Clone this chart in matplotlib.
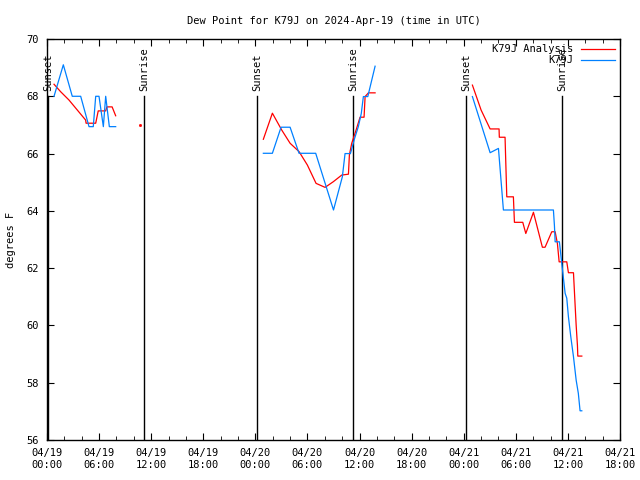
import numpy as np
import matplotlib
matplotlib.use('Agg')
import matplotlib.pyplot as plt

# hours since 2024-04-19 00:00 UTC, nan = gap in the data
nan = np.nan

anal_hours = [0.81, 1.57, 2.53, 3.49, 4.45, 4.5, 5.61, 5.9, 6.76, 6.9, 7.5, 7.91, nan,
              24.92, 25.96, 27.04, 28.0, 29.03, 29.99, 30.99, 32.03, 32.99, 33.95, 34.72,
              34.83, 35.1, 35.6, 36.06, 36.52, 36.64, 37.02, 37.79, nan,
              49.0, 50.0, 51.04, 52.07, 52.1, 52.76, 52.96, 53.72, 53.84, 54.8, 55.15,
              56.03, 57.06, 57.37, 58.14, 58.53, 58.79, 58.99, 59.87, 60.06, 60.64,
              60.83, 60.95, 61.1, 61.14, 61.6]
anal_vals = [68.42, 68.16, 67.87, 67.52, 67.17, 67.06, 67.06, 67.49, 67.49, 67.63, 67.63, 67.32, nan,
             66.50, 67.41, 66.82, 66.36, 66.07, 65.60, 64.96, 64.82, 65.02, 65.25, 65.28,
             65.95, 66.36, 66.82, 67.27, 67.27, 67.99, 68.12, 68.12, nan,
             68.39, 67.52, 66.86, 66.86, 66.57, 66.57, 64.49, 64.49, 63.6, 63.6, 63.21,
             63.95, 62.73, 62.73, 63.27, 63.27, 62.86, 62.22, 62.22, 61.84, 61.84,
             60.71, 60.01, 59.29, 58.93, 58.93]

obs_hours = [0.81, 1.88, 2.91, 3.88, 4.84, 5.33, 5.61, 5.99, 6.49, 6.76, 7.18, 7.91, nan,
             24.92, 25.96, 26.96, 28.0, 29.03, 30.95, 33.0, 34.02, 34.33, 34.95,
             35.4, 35.86, 36.2, 36.44, 36.95, 37.79, nan,
             49.0, 51.04, 52.0, 52.57, 58.33, 58.45, 58.53, 59.02, 59.29, 59.68,
             59.87, 60.06, 60.33, 60.64, 60.95, 61.2, 61.4, 61.6]
obs_vals = [68.0, 69.1, 68.0, 68.0, 66.94, 66.94, 68.0, 68.0, 66.94, 68.0, 66.94, 66.94, nan,
            66.01, 66.01, 66.92, 66.92, 66.01, 66.01, 64.03, 65.19, 66.0, 66.0,
            66.5, 66.94, 67.4, 67.99, 67.99, 69.05, nan,
            67.99, 66.03, 66.18, 64.03, 64.03, 63.47, 62.92, 62.92, 62.17, 61.12,
            60.95, 60.30, 59.61, 58.91, 58.09, 57.63, 57.02, 57.02]

# lone analysis point
lone_hours = [10.7]
lone_vals = [67.0]

sun_hours = [0.12, 11.17, 24.19, 35.25, 48.27, 59.33]
sun_labels = ['Sunset', 'Sunrise', 'Sunset', 'Sunrise', 'Sunset', 'Sunrise']

tick_hours = list(range(0, 67, 6))
tick_labels = ['04/19\n00:00', '04/19\n06:00', '04/19\n12:00', '04/19\n18:00',
               '04/20\n00:00', '04/20\n06:00', '04/20\n12:00', '04/20\n18:00',
               '04/21\n00:00', '04/21\n06:00', '04/21\n12:00', '04/21\n18:00']

plt.rcParams['font.family'] = ['DejaVu Sans Mono']
plt.rcParams['font.size'] = 7.5

fig = plt.figure(figsize=(6.4, 4.8), dpi=100)
ax = fig.add_axes([47 / 640, 40 / 480, 573 / 640, 401 / 480])

for h, lab in zip(sun_hours, sun_labels):
    ax.plot([h, h], [56, 68], color='black', lw=1.0)
    ax.text(h, 68.2, lab, rotation=90, ha='center', va='bottom', fontsize=7.5)

ax.plot(anal_hours, anal_vals, color='#ff0000', lw=0.9, label='K79J Analysis')
ax.plot(obs_hours, obs_vals, color='#0080ff', lw=0.9, label='K79J')
ax.plot(lone_hours, lone_vals, color='#ff0000', marker='s', ms=1, lw=0)

ax.set_xlim(0, 66)
ax.set_ylim(56, 70)
ax.set_xticks(tick_hours)
ax.set_xticklabels(tick_labels)
ax.set_xticks(range(0, 67, 2), minor=True)
ax.set_yticks(range(56, 71, 2))
ax.tick_params(which='both', direction='in', top=True, right=True)
ax.tick_params(which='major', length=5, pad=6)
ax.tick_params(which='minor', length=3)
for s in ax.spines.values():
    s.set_linewidth(1.0)

ax.set_ylabel('degrees F', labelpad=7)
ax.set_title('Dew Point for K79J on 2024-Apr-19 (time in UTC)', fontsize=7.5, pad=11)

leg = ax.legend(loc='upper right', frameon=False, markerfirst=False,
                handlelength=3.2, handletextpad=0.8, borderaxespad=0.1,
                labelspacing=0.1, fontsize=7.5)
for t in leg.get_texts():
    t.set_ha('right')

fig.savefig('out.png', dpi=100)
